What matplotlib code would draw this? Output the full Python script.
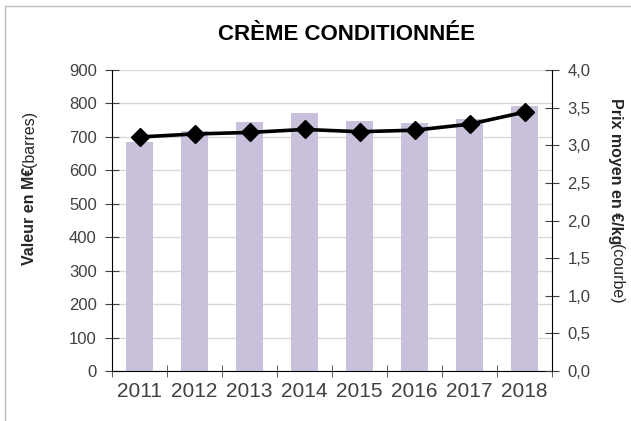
import matplotlib
matplotlib.use('Agg')
import matplotlib.pyplot as plt
from matplotlib.patches import Rectangle
import numpy as np

plt.rcParams['font.family'] = ['Liberation Sans', 'DejaVu Sans']

# données
annees = ['2011', '2012', '2013', '2014', '2015', '2016', '2017', '2018']
valeur = [685, 718, 746, 772, 747, 741, 753, 793]          # M€ (barres)
prix = [3.11, 3.15, 3.17, 3.21, 3.18, 3.20, 3.28, 3.44]   # €/kg (courbe)
ticks_gauche = [0, 100, 200, 300, 400, 500, 600, 700, 800, 900]
ticks_droite = [0.0, 0.5, 1.0, 1.5, 2.0, 2.5, 3.0, 3.5, 4.0]

W, H = 631, 421
fig = plt.figure(figsize=(W / 100, H / 100), dpi=100)
ax = fig.add_axes([112 / W, 1 - 371 / H, 440 / W, 301 / H])
ax2 = ax.twinx()

x = np.arange(len(annees))
ax.bar(x, valeur, width=0.5, color='#c9c0dc', zorder=2)
ax2.plot(x, prix, color='black', lw=2.6, marker='D', ms=9.5, zorder=3)

ax.set_xlim(-0.5, len(annees) - 0.5)
ax.set_ylim(0, 900)
ax2.set_ylim(0, 4)
ax.set_yticks(ticks_gauche)
ax.set_yticklabels([str(t) for t in ticks_gauche])
ax2.set_yticks(ticks_droite)
ax2.set_yticklabels([f'{t:.1f}'.replace('.', ',') for t in ticks_droite])

ax.set_xticks(x)
ax.set_xticklabels(annees)
ax.set_xticks(np.arange(-0.5, len(annees)), minor=True)
ax.tick_params(axis='x', which='major', length=0, labelsize=15, labelcolor='#404040', pad=8)
ax.tick_params(axis='x', which='minor', length=8, direction='inout', color='#404040')
ax.tick_params(axis='y', length=10, direction='inout', labelsize=12, labelcolor='#404040', color='#404040', pad=6)
ax2.tick_params(axis='y', length=10, direction='inout', labelsize=12, labelcolor='#404040', color='#404040', pad=6)

ax.grid(axis='y', color='#d9d9d9', lw=1, zorder=0)
ax.set_axisbelow(True)
for a in (ax, ax2):
    a.spines['top'].set_visible(False)
ax2.spines['left'].set_visible(False)
ax2.spines['bottom'].set_visible(False)
ax.spines['right'].set_visible(False)

fig.text(347 / W, 1 - 35 / H, 'CRÈME CONDITIONNÉE', ha='center', va='center',
         fontsize=16, fontweight='bold')

# étiquettes d'axes avec une partie en gras : largeur mesurée sans rotation
fig.canvas.draw()
r = fig.canvas.get_renderer()


def largeur(txt, **kw):
    t = fig.text(0, 0, txt, **kw)
    w = t.get_window_extent(r).width
    t.remove()
    return w


kw_b = dict(fontsize=11.5, fontweight='bold', color='#262626')
kw_n = dict(fontsize=11.5, color='#262626')

y0 = 265
fig.text(29 / W, 1 - y0 / H, 'Valeur en M€', rotation=90, rotation_mode='anchor',
         ha='left', va='center', **kw_b)
y1 = y0 - largeur('Valeur en M€', **kw_b)
fig.text(29 / W, 1 - y1 / H, '(barres)', rotation=90, rotation_mode='anchor',
         ha='left', va='center', **kw_n)

y0 = 98
fig.text(616 / W, 1 - y0 / H, 'Prix moyen en €/kg', rotation=270, rotation_mode='anchor',
         ha='left', va='center', **kw_b)
y1 = y0 + largeur('Prix moyen en €/kg', **kw_b)
fig.text(616 / W, 1 - y1 / H, '(courbe)', rotation=270, rotation_mode='anchor',
         ha='left', va='center', **kw_n)

# cadre du graphique
fig.patches.append(Rectangle((5 / W, -0.1), 1.2, 1 - 6 / H + 0.1, transform=fig.transFigure,
                             fill=False, edgecolor='#bfbfbf', lw=1))

fig.savefig('out.png', dpi=100)
